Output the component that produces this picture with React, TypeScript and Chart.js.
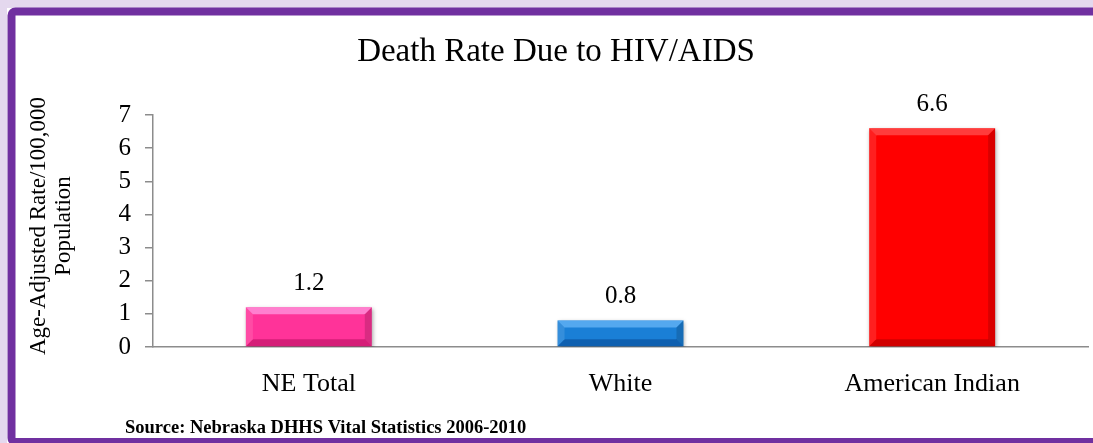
import React, { useEffect, useRef } from "react";
import { Chart, registerables } from "chart.js";

Chart.register(...registerables);

const categories = ["NE Total", "White", "American Indian"];
const values = [1.2, 0.8, 6.6];
const barColors = ["#ff3399", "#1a7fd6", "#ff0000"];
const bevelLight = ["rgba(255,160,230,0.7)", "rgba(110,185,250,0.7)", "rgba(255,100,100,0.6)"];
const bevelDark = ["rgba(150,0,70,0.4)", "rgba(0,50,120,0.4)", "rgba(140,0,0,0.4)"];
const yTicks = [0, 1, 2, 3, 4, 5, 6, 7];
const titleText = "Death Rate Due to HIV/AIDS";
const yTitleLines = ["Age-Adjusted Rate/100,000", "Population"];
const sourceText = "Source: Nebraska DHHS Vital Statistics 2006-2010";

const FONT = "'Liberation Serif', 'Times New Roman', serif";

const framePlugin = {
  id: "frame",
  beforeDraw(chart: any) {
    const ctx = chart.ctx;
    ctx.save();
    ctx.fillStyle = "#ffffff";
    ctx.fillRect(0, 0, chart.width, chart.height);
    ctx.fillStyle = "#e4d8ee";
    ctx.fillRect(0, 0, chart.width, 8);
    ctx.fillRect(0, 0, 7, chart.height);
    ctx.strokeStyle = "#7030a0";
    ctx.lineWidth = 8;
    ctx.beginPath();
    ctx.roundRect(11.5, 11.5, chart.width + 20, chart.height - 12.5, 4);
    ctx.stroke();
    ctx.restore();
  },
  afterDraw(chart: any) {
    const ctx = chart.ctx;
    ctx.save();
    ctx.fillStyle = "#000";
    ctx.textAlign = "center";
    ctx.textBaseline = "alphabetic";
    ctx.font = `33px ${FONT}`;
    ctx.fillText(titleText, 556, 61);
    ctx.font = `23px ${FONT}`;
    ctx.translate(0, 226);
    ctx.rotate(-Math.PI / 2);
    ctx.textBaseline = "middle";
    ctx.fillText(yTitleLines[0], 0, 39);
    ctx.fillText(yTitleLines[1], 0, 64);
    ctx.setTransform(1, 0, 0, 1, 0, 0);
    ctx.textAlign = "left";
    ctx.textBaseline = "alphabetic";
    ctx.font = `bold 18.5px ${FONT}`;
    ctx.fillText(sourceText, 125, 433);
    ctx.restore();
  },
};

const barPlugin = {
  id: "bevel",
  beforeDatasetDraw(chart: any) {
    const ctx = chart.ctx;
    ctx.save();
    ctx.shadowColor = "rgba(0,0,0,0.35)";
    ctx.shadowBlur = 4;
    ctx.shadowOffsetX = 1;
    ctx.shadowOffsetY = 2;
  },
  afterDatasetDraw(chart: any, args: any) {
    const ctx = chart.ctx;
    ctx.restore();
    ctx.save();
    const meta = args.meta;
    const b = 7;
    meta.data.forEach((el: any, i: number) => {
      const p = el.getProps(["x", "y", "base", "width"], true);
      const l = p.x - p.width / 2;
      const r = p.x + p.width / 2;
      const t = Math.min(p.y, p.base);
      const bt = Math.max(p.y, p.base);
      const bb = Math.min(b, (bt - t) / 2);
      const quad = (pts: number[][], c: string) => {
        ctx.fillStyle = c;
        ctx.beginPath();
        ctx.moveTo(pts[0][0], pts[0][1]);
        for (let k = 1; k < pts.length; k++) ctx.lineTo(pts[k][0], pts[k][1]);
        ctx.closePath();
        ctx.fill();
      };
      quad([[l, t], [r, t], [r - bb, t + bb], [l + bb, t + bb]], bevelLight[i]);
      quad([[l, bt], [r, bt], [r - bb, bt - bb], [l + bb, bt - bb]], bevelDark[i]);
      quad([[l, t], [l + bb, t + bb], [l + bb, bt - bb], [l, bt]], "rgba(255,255,255,0.12)");
      quad([[r, t], [r - bb, t + bb], [r - bb, bt - bb], [r, bt]], "rgba(0,0,0,0.15)");
      ctx.fillStyle = "#000";
      ctx.font = `25px ${FONT}`;
      ctx.textAlign = "center";
      ctx.textBaseline = "alphabetic";
      ctx.fillText(values[i].toFixed(1), p.x, t - 17);
    });
    ctx.restore();
  },
};

export default function App() {
  const ref = useRef<HTMLCanvasElement>(null);
  useEffect(() => {
    if (!ref.current) return;
    const chart = new Chart(ref.current, {
      type: "bar",
      data: {
        labels: categories,
        datasets: [
          {
            data: values,
            backgroundColor: barColors,
            borderWidth: 0,
            categoryPercentage: 1,
            barPercentage: 0.404,
          },
        ],
      },
      options: {
        animation: false,
        responsive: false,
        events: [],
        layout: { padding: { top: 115, right: 5, bottom: 0, left: 0 } },
        plugins: { legend: { display: false }, title: { display: false }, tooltip: { enabled: false } },
        scales: {
          x: {
            grid: { display: false },
            border: { display: true, color: "#8c8c8c", width: 1.5 },
            ticks: { color: "#000", font: { family: FONT, size: 26 }, padding: 14 },
            afterFit: (s: any) => {
              s.height = 96;
            },
          },
          y: {
            min: 0,
            max: 7,
            afterBuildTicks: (s: any) => {
              s.ticks = yTicks.map((v) => ({ value: v }));
            },
            grid: { drawOnChartArea: false, drawTicks: true, tickLength: 8, color: "#8c8c8c", lineWidth: 1.5 },
            border: { display: true, color: "#8c8c8c", width: 1.5 },
            ticks: { color: "#000", font: { family: FONT, size: 25 }, padding: 14 },
            afterFit: (s: any) => {
              s.width = 153;
            },
          },
        },
      },
      plugins: [framePlugin, barPlugin],
    });
    return () => chart.destroy();
  }, []);
  return (
    <div style={{ position: "fixed", left: 0, top: 0, width: 1093, height: 443 }}>
      <canvas ref={ref} width={1093} height={443} style={{ width: 1093, height: 443, display: "block" }} />
    </div>
  );
}
